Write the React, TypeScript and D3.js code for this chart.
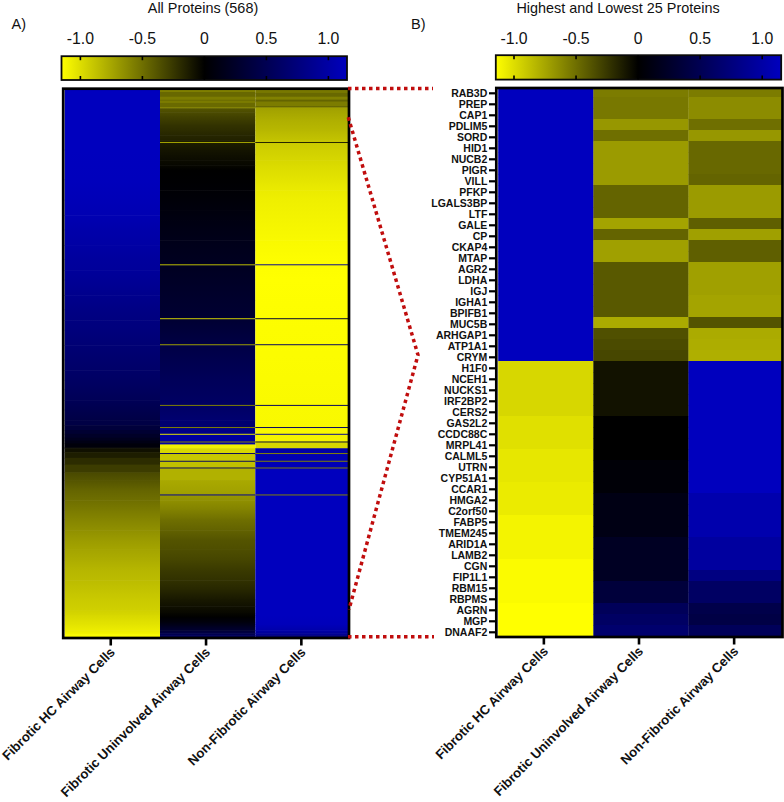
import * as d3 from "d3";
import React from "react";

const categories = ["Fibrotic HC Airway Cells", "Fibrotic Uninvolved Airway Cells", "Non-Fibrotic Airway Cells"];
const legendTicks = [-1, -0.5, 0, 0.5, 1];
const legendLabels = ["-1.0", "-0.5", "0", "0.5", "1.0"];
const ROW_COUNT = 568;

// Panel A: each column is a list of row starts (of 568 sorted proteins) and the value from that row on
const hcRows = [0, 62, 93, 114, 130, 145, 161, 176, 187, 197, 213, 228, 239, 249, 265, 280, 291, 301, 311, 322, 332, 343, 348, 353, 357, 361, 364, 367, 371, 372, 376, 382, 389, 397, 405, 415, 426, 436, 446, 457, 467, 477, 488, 498, 509, 519, 529, 540, 545, 550, 555, 561, 565, 567];
const hcValues = [1.15, 1.15, 1.14, 1.11, 1.08, 1.03, 0.99, 0.95, 0.93, 0.9, 0.85, 0.8, 0.77, 0.75, 0.7, 0.66, 0.63, 0.6, 0.56, 0.52, 0.47, 0.42, 0.36, 0.3, 0.24, 0.18, 0.12, 0.06, 0, -0.07, -0.13, -0.2, -0.27, -0.33, -0.38, -0.45, -0.5, -0.55, -0.6, -0.65, -0.7, -0.74, -0.78, -0.82, -0.85, -0.88, -0.91, -0.94, -0.97, -1.0, -1.03, -1.07, -1.12, -1.15];

const uninvolvedRows = [0, 2, 7, 10, 12, 13, 18, 19, 23, 27, 31, 36, 42, 47, 52, 56, 62, 67, 73, 78, 83, 93, 104, 114, 125, 135, 145, 156, 166, 182, 197, 218, 237, 249, 265, 280, 301, 327, 343, 351, 358, 366, 368, 372, 378, 386, 393, 405, 419, 421, 426, 436, 446, 457, 467, 477, 488, 498, 509, 519, 529, 536, 543, 547, 553, 557, 561, 564, 566];
const uninvolvedValues = [-0.58, -0.47, -0.56, -0.5, -0.62, -0.48, -0.62, -0.38, -0.34, -0.3, -0.27, -0.23, -0.2, -0.17, -0.15, -0.12, -0.09, -0.07, -0.05, -0.03, 0, 0.01, 0.03, 0.05, 0.08, 0.1, 0.13, 0.15, 0.17, 0.2, 0.23, 0.27, 0.3, 0.35, 0.42, 0.47, 0.54, 0.6, 0.68, 0.82, 0.96, 1.02, -1.08, -0.97, -0.9, -0.86, -0.8, -0.76, -0.72, -0.68, -0.65, -0.58, -0.5, -0.44, -0.38, -0.35, -0.31, -0.26, -0.22, -0.17, -0.11, -0.07, -0.03, 0, 0.09, 0.2, 0.3, 0.44, 0.54];

const nonFibroticRows = [0, 3, 7, 10, 12, 17, 18, 31, 42, 52, 56, 73, 83, 93, 104, 114, 135, 156, 176, 197, 351, 358, 366, 372, 378, 386, 393, 545, 555, 561, 564, 566];
const nonFibroticValues = [-0.54, -0.47, -0.58, -0.45, -0.56, -0.41, -0.72, -0.79, -0.83, -0.88, -0.92, -0.97, -1.0, -1.03, -1.06, -1.08, -1.1, -1.125, -1.14, -1.15, -1.125, -1.1, -0.97, 1.0, 1.08, 1.11, 1.15, 1.15, 1.12, 1.02, 0.9, 0.75];

// Panel A: single proteins that stand out from their neighbours
const outlierRows = [54, 181, 237, 264, 327, 350, 357, 365, 377, 385, 392, 420];
const outlierUninvolved = [-0.75, -0.85, -0.95, -0.7, -0.6, -0.6, -1.05, -0.6, 0.6, 0.6, 0.6, 0.9];
const outlierNonFibrotic = [-0.15, 0.9, 0.3, 0.6, 0.6, 0.6, 0.9, 0.3, -0.6, -0.6, -0.6, -0.6];

// Panel A: row ranges whose colours change in discrete steps, not smoothly
const steppedRanges = [[0, 18], [340, 395]];

// Panel B
const proteins = ["RAB3D", "PREP", "CAP1", "PDLIM5", "SORD", "HID1", "NUCB2", "PIGR", "VILL", "PFKP", "LGALS3BP", "LTF", "GALE", "CP", "CKAP4", "MTAP", "AGR2", "LDHA", "IGJ", "IGHA1", "BPIFB1", "MUC5B", "ARHGAP1", "ATP1A1", "CRYM", "H1F0", "NCEH1", "NUCKS1", "IRF2BP2", "CERS2", "GAS2L2", "CCDC88C", "MRPL41", "CALML5", "UTRN", "CYP51A1", "CCAR1", "HMGA2", "C2orf50", "FABP5", "TMEM245", "ARID1A", "LAMB2", "CGN", "FIP1L1", "RBM15", "RBPMS", "AGRN", "MGP", "DNAAF2"];
const topHC = [1.15, 1.15, 1.15, 1.15, 1.15, 1.15, 1.15, 1.15, 1.15, 1.15, 1.15, 1.15, 1.15, 1.15, 1.15, 1.15, 1.15, 1.15, 1.15, 1.15, 1.15, 1.15, 1.15, 1.15, 1.15, -0.97, -0.97, -0.97, -0.97, -0.97, -1.01, -1.01, -1.01, -1.04, -1.04, -1.04, -1.06, -1.06, -1.06, -1.1, -1.1, -1.1, -1.1, -1.13, -1.13, -1.13, -1.13, -1.15, -1.15, -1.15];
const topUninvolved = [-0.56, -0.54, -0.54, -0.68, -0.5, -0.7, -0.7, -0.7, -0.7, -0.45, -0.45, -0.45, -0.74, -0.45, -0.72, -0.72, -0.4, -0.4, -0.4, -0.4, -0.4, -0.77, -0.36, -0.34, -0.32, -0.08, -0.08, -0.08, -0.08, -0.08, 0, 0, 0, 0, 0.04, 0.04, 0.04, 0.12, 0.12, 0.12, 0.12, 0.21, 0.21, 0.21, 0.21, 0.36, 0.36, 0.54, 0.6, 0.66];
const topNonFibrotic = [-0.56, -0.63, -0.63, -0.5, -0.68, -0.47, -0.47, -0.47, -0.45, -0.7, -0.7, -0.7, -0.43, -0.72, -0.43, -0.43, -0.72, -0.72, -0.72, -0.74, -0.74, -0.38, -0.77, -0.78, -0.79, 1.15, 1.15, 1.15, 1.15, 1.15, 1.15, 1.15, 1.15, 1.15, 1.15, 1.15, 1.15, 1.05, 1.05, 1.05, 1.05, 0.96, 0.96, 0.96, 0.78, 0.6, 0.6, 0.45, 0.42, 0.54];

const FONT = "'Liberation Sans', Arial, sans-serif";
const RED = "#c00d0d";
const color = d3.scaleLinear<string>().domain([-1.15, 0, 1.15]).range(["#ffff00", "#000000", "#0000be"]);

function Legend({ id, x1, x2, frameLeft, frameRight, top, bottom }: { id: string; x1: number; x2: number; frameLeft: number; frameRight: number; top: number; bottom: number }) {
  const x = d3.scaleLinear().domain([-1, 1]).range([x1, x2]);
  const vLeft = x.invert(frameLeft);
  const vRight = x.invert(frameRight);
  const offsets = [vLeft, 0, vRight].map((v) => (x(v) - frameLeft) / (frameRight - frameLeft));
  return (
    <g>
      <defs>
        <linearGradient id={id}>
          <stop offset={offsets[0]} stopColor={color(vLeft)} />
          <stop offset={offsets[1]} stopColor={color(0)} />
          <stop offset={offsets[2]} stopColor={color(vRight)} />
        </linearGradient>
      </defs>
      <rect x={frameLeft} y={top} width={frameRight - frameLeft} height={bottom - top} fill={`url(#${id})`} stroke="#0a0a0a" strokeWidth={1.8} />
      {legendTicks.map((t, i) => (
        <g key={t}>
          <line x1={x(t)} x2={x(t)} y1={top} y2={top + 4} stroke="#000" strokeWidth={1.6} />
          <line x1={x(t)} x2={x(t)} y1={bottom - 4} y2={bottom} stroke="#000" strokeWidth={1.6} />
          <text x={x(t)} y={43.5} textAnchor="middle" fontSize={15.8} fill="#111">{legendLabels[i]}</text>
        </g>
      ))}
    </g>
  );
}

function CategoryAxis({ x, y, offset }: { x: d3.ScaleBand<string>; y: number; offset: number }) {
  return (
    <g>
      {categories.map((c) => {
        const cx = (x(c) as number) + x.bandwidth() / 2 + offset;
        return (
          <g key={c}>
            <line x1={cx} x2={cx} y1={y} y2={y + 6.5} stroke="#000" strokeWidth={2.6} />
            <text transform={`translate(${cx + 5},${y + 14}) rotate(-45)`} textAnchor="end" fontSize={13.2} fontWeight="bold" fill="#111">{c}</text>
          </g>
        );
      })}
    </g>
  );
}

function isStepped(row: number) {
  return steppedRanges.some(([a, b]) => row >= a && row < b);
}

export default function App() {
  // Panel A scales
  const xA = d3.scaleBand<string>().domain(categories).range([64.7, 350.6]);
  const yA = d3.scaleLinear().domain([0, ROW_COUNT]).range([90, 637]);
  const columnsA = [
    { cat: categories[0], rows: hcRows, values: hcValues },
    { cat: categories[1], rows: uninvolvedRows, values: uninvolvedValues },
    { cat: categories[2], rows: nonFibroticRows, values: nonFibroticValues },
  ];
  // Each segment shades from its own read value to the next one, unless the colour steps there
  const segmentsA = columnsA.flatMap((col, c) =>
    col.rows.map((r, i) => {
      const next = i + 1 < col.rows.length ? col.rows[i + 1] : ROW_COUNT;
      const v = col.values[i];
      const w = i + 1 < col.values.length ? col.values[i + 1] : v;
      const smooth = !isStepped(r) && Math.abs(w - v) < 0.15;
      return { id: `seg${c}-${i}`, cat: col.cat, r, next, v, end: smooth ? w : v };
    })
  );
  // Panel B scales
  const xB = d3.scaleBand<string>().domain(categories).range([498.2, 783.6]);
  const yB = d3.scaleBand<string>().domain(proteins).range([86, 636]);
  const yTick = d3.scalePoint<string>().domain(proteins).range([93.3, 632.3]);
  const columnsB = [
    { cat: categories[0], values: topHC },
    { cat: categories[1], values: topUninvolved },
    { cat: categories[2], values: topNonFibrotic },
  ];
  const connector = d3.line();

  return (
    <svg width={784} height={802} viewBox="0 0 784 802" style={{ position: "absolute", left: 0, top: 0, display: "block", background: "#fff" }} fontFamily={FONT}>
      <defs>
        <clipPath id="clipA"><rect x={63} y={88.7} width={286} height={549.3} /></clipPath>
        <clipPath id="clipB"><rect x={496.3} y={88} width={286.2} height={549} /></clipPath>
        {segmentsA.map((s) => (
          <linearGradient key={s.id} id={s.id} x1={0} y1={0} x2={0} y2={1}>
            <stop offset={0} stopColor={color(s.v)} />
            <stop offset={1} stopColor={color(s.end)} />
          </linearGradient>
        ))}
      </defs>

      <text x={203} y={13} textAnchor="middle" fontSize={14.4} fill="#111">All Proteins (568)</text>
      <text x={618} y={13} textAnchor="middle" fontSize={14.4} fill="#111">Highest and Lowest 25 Proteins</text>
      <text x={11.5} y={28.5} fontSize={14.5} fill="#111">A)</text>
      <text x={411} y={28.5} fontSize={14.5} fill="#111">B)</text>

      <Legend id="legA" x1={80.4} x2={328.4} frameLeft={61.5} frameRight={347} top={56.2} bottom={80} />
      <Legend id="legB" x1={514} x2={762.2} frameLeft={495.8} frameRight={781.2} top={55.2} bottom={79.6} />

      {/* Panel A heat map */}
      <g clipPath="url(#clipA)">
        {segmentsA.map((s) => (
          <rect key={s.id} x={xA(s.cat)} width={xA.bandwidth()} y={yA(s.r)} height={yA(s.next) - yA(s.r) + 0.6} fill={`url(#${s.id})`} />
        ))}
        {outlierRows.map((r, i) => (
          <g key={r}>
            <rect x={xA(categories[1])} width={xA.bandwidth()} y={yA(r)} height={yA(r + 1) - yA(r)} fill={color(outlierUninvolved[i])} />
            <rect x={xA(categories[2])} width={xA.bandwidth()} y={yA(r)} height={yA(r + 1) - yA(r)} fill={color(outlierNonFibrotic[i])} />
          </g>
        ))}
      </g>
      <rect x={63.2} y={88.7} width={285.8} height={549.3} fill="none" stroke="#000" strokeWidth={2.7} />
      <CategoryAxis x={xA} y={639} offset={-1.6} />

      {/* Panel B heat map */}
      <g clipPath="url(#clipB)">
        {columnsB.map((col) =>
          proteins.map((p, i) => (
            <rect key={col.cat + p} x={xB(col.cat)} width={xB.bandwidth() + 0.3} y={yB(p)} height={yB.bandwidth() + 0.3} fill={color(col.values[i])} />
          ))
        )}
      </g>
      <rect x={496.3} y={88} width={286.2} height={549} fill="none" stroke="#000" strokeWidth={2.7} />
      {proteins.map((p) => (
        <g key={p}>
          <line x1={489} x2={495.5} y1={yTick(p)} y2={yTick(p)} stroke="#000" strokeWidth={2.2} />
          <text x={487.3} y={(yTick(p) as number) + 3.8} textAnchor="end" fontSize={10.5} fontWeight="bold" fill="#111">{p}</text>
        </g>
      ))}
      <CategoryAxis x={xB} y={638} offset={-1.9} />

      {/* Connector between the panels */}
      <g fill="none" stroke={RED} strokeWidth={3.5} strokeDasharray="3.5 3.5">
        <path d={connector([[348, 88.4], [433, 88.4]]) as string} />
        <path d={connector([[348, 636.7], [434, 636.7]]) as string} />
        <path d={connector([[348.3, 117.3], [418, 355], [349, 609.5]]) as string} />
      </g>
    </svg>
  );
}
